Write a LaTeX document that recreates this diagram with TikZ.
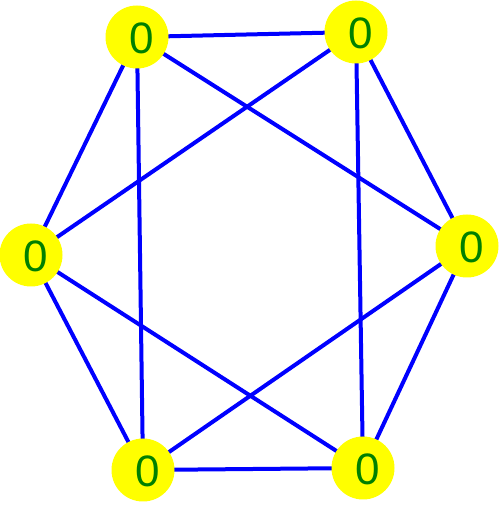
\documentclass[tikz,border=0pt]{standalone}
\usepackage{fontspec}
\setmainfont{Liberation Sans}
\usetikzlibrary{backgrounds}
\definecolor{nodeyellow}{RGB}{255,255,0}
\definecolor{labgreen}{RGB}{0,128,0}
\definecolor{edgeblue}{RGB}{0,0,255}
\begin{document}
\begin{tikzpicture}[x=1pt,y=1pt,
  vert/.style={circle,fill=nodeyellow,minimum size=63pt,inner sep=0pt,
    label={[text=labgreen,font=\fontsize{44}{44}\selectfont,xshift=5pt,yshift=-1pt]center:0}},
  edge/.style={draw=edgeblue,line width=4pt}]
\useasboundingbox (0,0) rectangle (500,507);
\node[vert] (A) at (137,470) {};
\node[vert] (B) at (356,475) {};
\node[vert] (C) at (31,252) {};
\node[vert] (D) at (467,261) {};
\node[vert] (E) at (143,37) {};
\node[vert] (F) at (363,39) {};
\begin{pgfonlayer}{background}
\draw[edge] (A.center) -- (B.center);
\draw[edge] (A.center) -- (C.center);
\draw[edge] (A.center) -- (D.center);
\draw[edge] (A.center) -- (E.center);
\draw[edge] (B.center) -- (C.center);
\draw[edge] (B.center) -- (D.center);
\draw[edge] (B.center) -- (F.center);
\draw[edge] (C.center) -- (E.center);
\draw[edge] (C.center) -- (F.center);
\draw[edge] (D.center) -- (E.center);
\draw[edge] (D.center) -- (F.center);
\draw[edge] (E.center) -- (F.center);
\end{pgfonlayer}
\end{tikzpicture}
\end{document}
